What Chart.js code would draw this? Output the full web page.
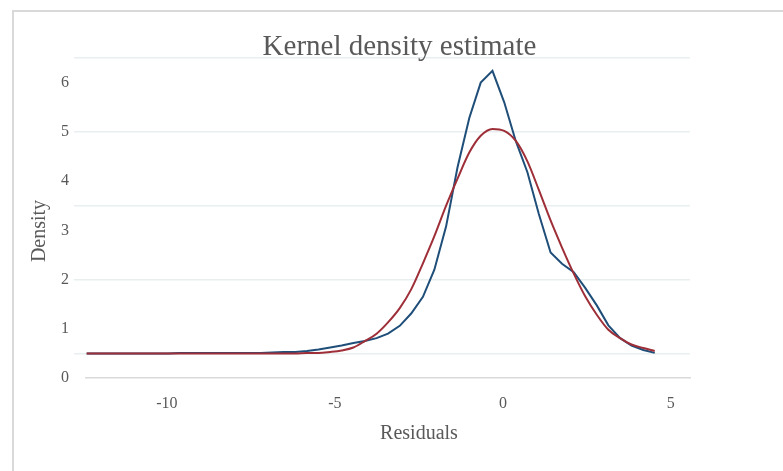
<!DOCTYPE html>
<html>
<head>
<meta charset="utf-8">
<script src="https://cdn.jsdelivr.net/npm/chart.js@4/dist/chart.umd.min.js"></script>
<style>
  html, body { margin: 0; padding: 0; background: #fff; }
  body { width: 783px; height: 471px; position: relative; overflow: hidden; }
  .frame { position: absolute; left: 12px; top: 10px; width: 800px; height: 500px;
           border-left: 2px solid #d9d9d9; border-top: 2px solid #d9d9d9; }
  #kde { position: absolute; left: 0; top: 0; }
</style>
</head>
<body>
<div class="frame"></div>
<canvas id="kde" width="783" height="471"></canvas>
<script>
const titleText = 'Kernel density estimate';
const xTitle = 'Residuals';
const yTitle = 'Density';

// residual grid shared by both curves
const residuals = [
  -12.39, -12.04, -11.70, -11.35, -11.01, -10.66, -10.32, -9.97, -9.63, -9.28,
  -8.94, -8.59, -8.25, -7.90, -7.56, -7.21, -6.87, -6.52, -6.18, -5.83,
  -5.49, -5.14, -4.80, -4.45, -4.11, -3.76, -3.42, -3.07, -2.73, -2.38,
  -2.04, -1.69, -1.35, -1.00, -0.66, -0.31, 0.04, 0.38, 0.73, 1.07,
  1.42, 1.76, 2.11, 2.45, 2.80, 3.14, 3.49, 3.83, 4.18, 4.52
];

// kernel density (blue)
const kdeVals = [
  0.50, 0.50, 0.50, 0.50, 0.50, 0.50, 0.50, 0.50, 0.51, 0.51,
  0.51, 0.51, 0.51, 0.51, 0.51, 0.51, 0.52, 0.53, 0.53, 0.55,
  0.58, 0.62, 0.66, 0.71, 0.75, 0.81, 0.90, 1.06, 1.31, 1.65,
  2.20, 3.08, 4.28, 5.28, 6.00, 6.24, 5.60, 4.82, 4.18, 3.33,
  2.55, 2.32, 2.15, 1.83, 1.47, 1.07, 0.81, 0.66, 0.57, 0.51
];

// normal density (red)
const normalVals = [
  0.50, 0.50, 0.50, 0.50, 0.50, 0.50, 0.50, 0.50, 0.50, 0.50,
  0.50, 0.50, 0.50, 0.50, 0.50, 0.50, 0.50, 0.50, 0.50, 0.51,
  0.51, 0.53, 0.56, 0.62, 0.75, 0.90, 1.13, 1.42, 1.80, 2.33,
  2.88, 3.50, 4.05, 4.58, 4.92, 5.06, 5.02, 4.82, 4.40, 3.82,
  3.20, 2.65, 2.12, 1.66, 1.28, 0.98, 0.81, 0.68, 0.61, 0.55
];

const xTicks = [-10, -5, 0, 5];
const yTicks = [0, 1, 2, 3, 4, 5, 6];
const yGridVals = [0.5, 2, 3.5, 5, 6.5];

const serif = "'Liberation Serif', 'Times New Roman', serif";
const textGrey = '#595959';

function pts(vals) {
  return residuals.map((x, i) => ({ x: x, y: vals[i] }));
}

// titles sit off-centre in the original, so draw them here
const captions = {
  id: 'captions',
  afterDraw(chart) {
    const { ctx, chartArea } = chart;
    ctx.save();
    ctx.fillStyle = textGrey;
    ctx.textAlign = 'center';
    ctx.textBaseline = 'alphabetic';
    ctx.font = '29px ' + serif;
    ctx.fillText(titleText, chart.width / 2 + 8, 55);
    ctx.font = '20px ' + serif;
    ctx.fillText(xTitle, (chartArea.left + chartArea.right) / 2 + 31, 439);
    ctx.translate(40, (chartArea.top + chartArea.bottom) / 2 + 13);
    ctx.rotate(-Math.PI / 2);
    ctx.textBaseline = 'middle';
    ctx.fillText(yTitle, 0, 0);
    ctx.restore();
  }
};

new Chart(document.getElementById('kde'), {
  type: 'line',
  data: {
    datasets: [
      {
        label: 'Normal',
        data: pts(normalVals),
        borderColor: '#9E2F38',
        borderWidth: 2,
        pointRadius: 0,
        cubicInterpolationMode: 'monotone',
        fill: false
      },
      {
        label: 'Kernel',
        data: pts(kdeVals),
        borderColor: '#1F4E79',
        borderWidth: 2,
        pointRadius: 0,
        tension: 0,
        fill: false
      }
    ]
  },
  options: {
    responsive: false,
    animation: false,
    devicePixelRatio: 1,
    layout: { padding: { top: 58, left: 17, right: 93, bottom: 53 } },
    plugins: {
      legend: { display: false },
      tooltip: { enabled: false },
      title: { display: false }
    },
    scales: {
      x: {
        type: 'linear',
        min: -12.41,
        max: 5.57,
        afterBuildTicks: s => { s.ticks = xTicks.map(v => ({ value: v })); },
        afterFit: s => { s.height = 40; },
        grid: { display: false, drawTicks: false },
        border: { display: true, color: '#d9d9d9', width: 1.5 },
        ticks: { padding: 16, color: textGrey, font: { family: serif, size: 16 } }
      },
      y: {
        position: 'left',
        weight: 1,
        min: 0,
        max: 6.5,
        afterBuildTicks: s => { s.ticks = yTicks.map(v => ({ value: v })); },
        afterFit: s => { s.width = 57; },
        grid: { display: false, drawTicks: false },
        border: { display: false },
        ticks: { padding: 5, color: textGrey, font: { family: serif, size: 16 } }
      },
      yGrid: {
        position: 'left',
        weight: 0,
        min: 0,
        max: 6.5,
        afterBuildTicks: s => { s.ticks = yGridVals.map(v => ({ value: v })); },
        afterFit: s => { s.width = 12; },
        grid: { color: '#e9efef', lineWidth: 1.5, drawTicks: true, tickLength: 12 },
        border: { display: false },
        ticks: { display: false }
      }
    }
  },
  plugins: [captions]
});
</script>
</body>
</html>
